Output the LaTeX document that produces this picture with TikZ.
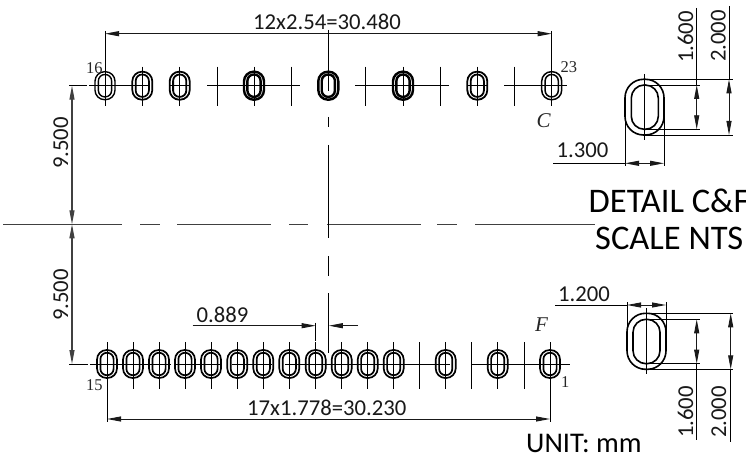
\documentclass[tikz,border=0pt]{standalone}
\usepackage{fontspec}
\setmainfont{Carlito}
\newfontfamily\timesfont{Liberation Serif}
\usetikzlibrary{arrows.meta}
\tikzset{
  dimtext/.style={inner sep=0pt,font=\fontsize{22.7}{24}\selectfont,text=black!90},
  pinno/.style={inner sep=0pt,anchor=base west,font=\timesfont\fontsize{16.5}{18}\selectfont,text=black!85},
  viewtag/.style={inner sep=0pt,anchor=base west,font=\timesfont\itshape\fontsize{21}{22}\selectfont,text=black!85},
  note/.style={inner sep=0pt,anchor=base west,text=black},
  thin line/.style={line width=0.9pt,black},
  centre line/.style={line width=1pt,black!75},
  dim/.style={line width=0.9pt,black!90,{Triangle[length=14pt,width=5pt]}-{Triangle[length=14pt,width=5pt]}},
  arr/.style={line width=0.9pt,black!90,-{Triangle[length=14pt,width=5pt]}},
}
\newcommand{\myslot}[3]{%
  \draw[line width=#3pt,black,rounded corners=9.6pt] (#1-10,#2-14) rectangle (#1+10,#2+14);
  \draw[line width=#3pt,black,rounded corners=6.4pt] (#1-6.6,#2-11.2) rectangle (#1+6.6,#2+11.2);
}
\begin{document}
\begin{tikzpicture}[x=1pt,y=-1pt]
\useasboundingbox (0,0) rectangle (746,457);
\clip (0,0) rectangle (746,457);
\fill[white] (0,0) rectangle (746,457);

% top row
\foreach \x/\w in {105/1.4,142.3/1.7,179.7/1.8,254/2.4,328.3/2.4,403/2.4,477.3/1.8,551.7/1.5}{\myslot{\x}{85.7}{\w}}
\foreach \x in {142.3,179.7,217,254,291,365.7,403,440,477.3,514.7}{\draw[thin line] (\x,66.7)--(\x,106);}
\foreach \a/\b in {89/150,170/190,207/300,355/449,467/487,504/567}{\draw[thin line] (\a,85.7)--(\b,85.7);}
\coordinate (topL) at (105,33.7); \coordinate (topR) at (551.7,33.7);
\draw[thin line] (105,31)--(105,106);
\draw[thin line] (551.7,31)--(551.7,106);
\draw[dim] (topL)--(topR);
\draw[thin line] (69,85.7)--(87,85.7);

% bottom row
\foreach \x in {107,133,159,185,211,237.3,263.3,289.3,315.7,341.7,367.7,393.7,445.7,497.7,550}{\myslot{\x}{364}{1.7}}
\foreach \x in {133,159,185,211,237.3,263.3,289.3,315.7,341.7,367.7,393.7,419.7,445.7,471.7,497.7,524}{\draw[thin line] (\x,342)--(\x,388.7);}
\foreach \a/\b in {90/171,174/222,232/272,285/450,472/570}{\draw[thin line] (\a,364)--(\b,364);}
\draw[thin line] (107,342)--(107,422);
\draw[thin line] (550,342)--(550,422);
\coordinate (botL) at (107,419); \coordinate (botR) at (550,419);
\draw[dim] (botL)--(botR);
\draw[thin line] (69,364)--(88,364);

% centre lines
\foreach \a/\b in {3/122,140/160,177/271,289/308,327/421,437/457,475/595}{\draw[centre line] (\a,224.3)--(\b,224.3);}
\foreach \a/\b in {30/91,117/127,145/238,256/276,293/353}{\draw[thin line,line width=1pt] (328.3,\a)--(328.3,\b);}

% 9.500 dimensions
\coordinate (mT) at (72,85.7); \coordinate (mC) at (72,224.3); \coordinate (mB) at (72,364);
\draw[dim,line width=1.1pt,black!75] (mT)--(mC);
\draw[dim,line width=1.1pt,black!75] (mC)--(mB);
\node[dimtext,rotate=90,anchor=base] (t95a) at (68,143) {9.500};
\node[dimtext,rotate=90,anchor=base] (t95b) at (68,295) {9.500};

% 0.889
\coordinate (d1) at (192.7,325.7); \coordinate (d2) at (315.7,325.7);
\coordinate (d3) at (358,325.7); \coordinate (d4) at (328.8,325.7);
\draw[arr] (d1)--(d2);
\draw[arr] (d3)--(d4);
\draw[thin line] (315.7,322.7)--(315.7,340.7);
\node[dimtext,anchor=base west] (t889) at (196.5,322) {0.889};

% dimension texts, main view
\node[dimtext,anchor=base west] (ttop) at (253,30) {12x2.54=30.480};
\node[dimtext,anchor=base west] (tbot) at (247,415) {17x1.778=30.230};

% pin numbers and tags
\node[pinno] (p16) at (86,74) {16};
\node[pinno] (p23) at (560.5,72.7) {23};
\node[pinno] (p15) at (86,390) {15};
\node[pinno] (p1) at (561,387) {1};
\node[viewtag] (tc) at (536.5,128) {C};
\node[viewtag] (tf) at (535,331) {F};

% detail C
\draw[line width=1.6pt,rounded corners=18.5pt] (625,79.3) rectangle (664,135);
\draw[line width=1.6pt,rounded corners=13pt] (631.3,85) rectangle (658.3,129.3);
\draw[thin line] (644.7,74)--(644.7,140);
\draw[thin line] (644.7,79.3)--(732.5,79.3);
\draw[thin line] (644.7,135)--(732.5,135);
\draw[thin line] (644.7,85)--(700,85);
\draw[thin line] (644.7,129.3)--(700,129.3);
\draw[thin line] (696.7,8)--(696.7,85);
\draw[thin line] (729,6)--(729,79.3);
\coordinate (c1a) at (696.7,85); \coordinate (c1b) at (696.7,129.3);
\coordinate (c2a) at (729,79.3); \coordinate (c2b) at (729,135);
\draw[dim] (c1a)--(c1b);
\draw[dim] (c2a)--(c2b);
\draw[thin line] (625,107)--(625,166);
\draw[thin line] (664,107)--(664,166);
\coordinate (c3a) at (625,163.3); \coordinate (c3b) at (664,163.3);
\draw[thin line] (553,163.3)--(c3a);
\draw[dim] (c3a)--(c3b);
\node[dimtext,anchor=base west] (t13) at (556.5,158) {1.300};
\node[dimtext,rotate=90,anchor=base] (t16a) at (693,37) {1.600};
\node[dimtext,rotate=90,anchor=base] (t20a) at (725.5,36) {2.000};

% detail F
\draw[line width=1.6pt,rounded corners=18.5pt] (627,313.3) rectangle (666,369.3);
\draw[line width=1.6pt,rounded corners=13pt] (633,319.3) rectangle (660,363.7);
\draw[thin line] (646.3,308)--(646.3,374);
\draw[thin line] (646.3,313.3)--(733,313.3);
\draw[thin line] (646.3,369.3)--(733,369.3);
\draw[thin line] (646.3,319.3)--(700,319.3);
\draw[thin line] (646.3,363.7)--(700,363.7);
\draw[thin line] (696.7,363.7)--(696.7,440);
\draw[thin line] (730.7,369.3)--(730.7,442);
\coordinate (f1a) at (696.7,319.3); \coordinate (f1b) at (696.7,363.7);
\coordinate (f2a) at (730.7,313.3); \coordinate (f2b) at (730.7,369.3);
\draw[dim] (f1a)--(f1b);
\draw[dim] (f2a)--(f2b);
\draw[thin line] (627,302)--(627,341);
\draw[thin line] (666,302)--(666,341);
\coordinate (f3a) at (627,305); \coordinate (f3b) at (666,305);
\draw[thin line] (555,305)--(f3a);
\draw[dim] (f3a)--(f3b);
\node[dimtext,anchor=base west] (t12) at (558,301) {1.200};
\node[dimtext,rotate=90,anchor=base] (t16b) at (693,412) {1.600};
\node[dimtext,rotate=90,anchor=base] (t20b) at (726,412) {2.000};

% notes
\node[note,font=\fontsize{34.5}{35}\selectfont] (n1) at (588.5,212) {DETAIL C\&F};
\node[note,font=\fontsize{34.5}{35}\selectfont] (n2) at (595,249.3) {SCALE NTS};
\node[note,font=\fontsize{28.5}{29}\selectfont] (n3) at (526,452.5) {UNIT: mm};
\end{tikzpicture}
\end{document}
